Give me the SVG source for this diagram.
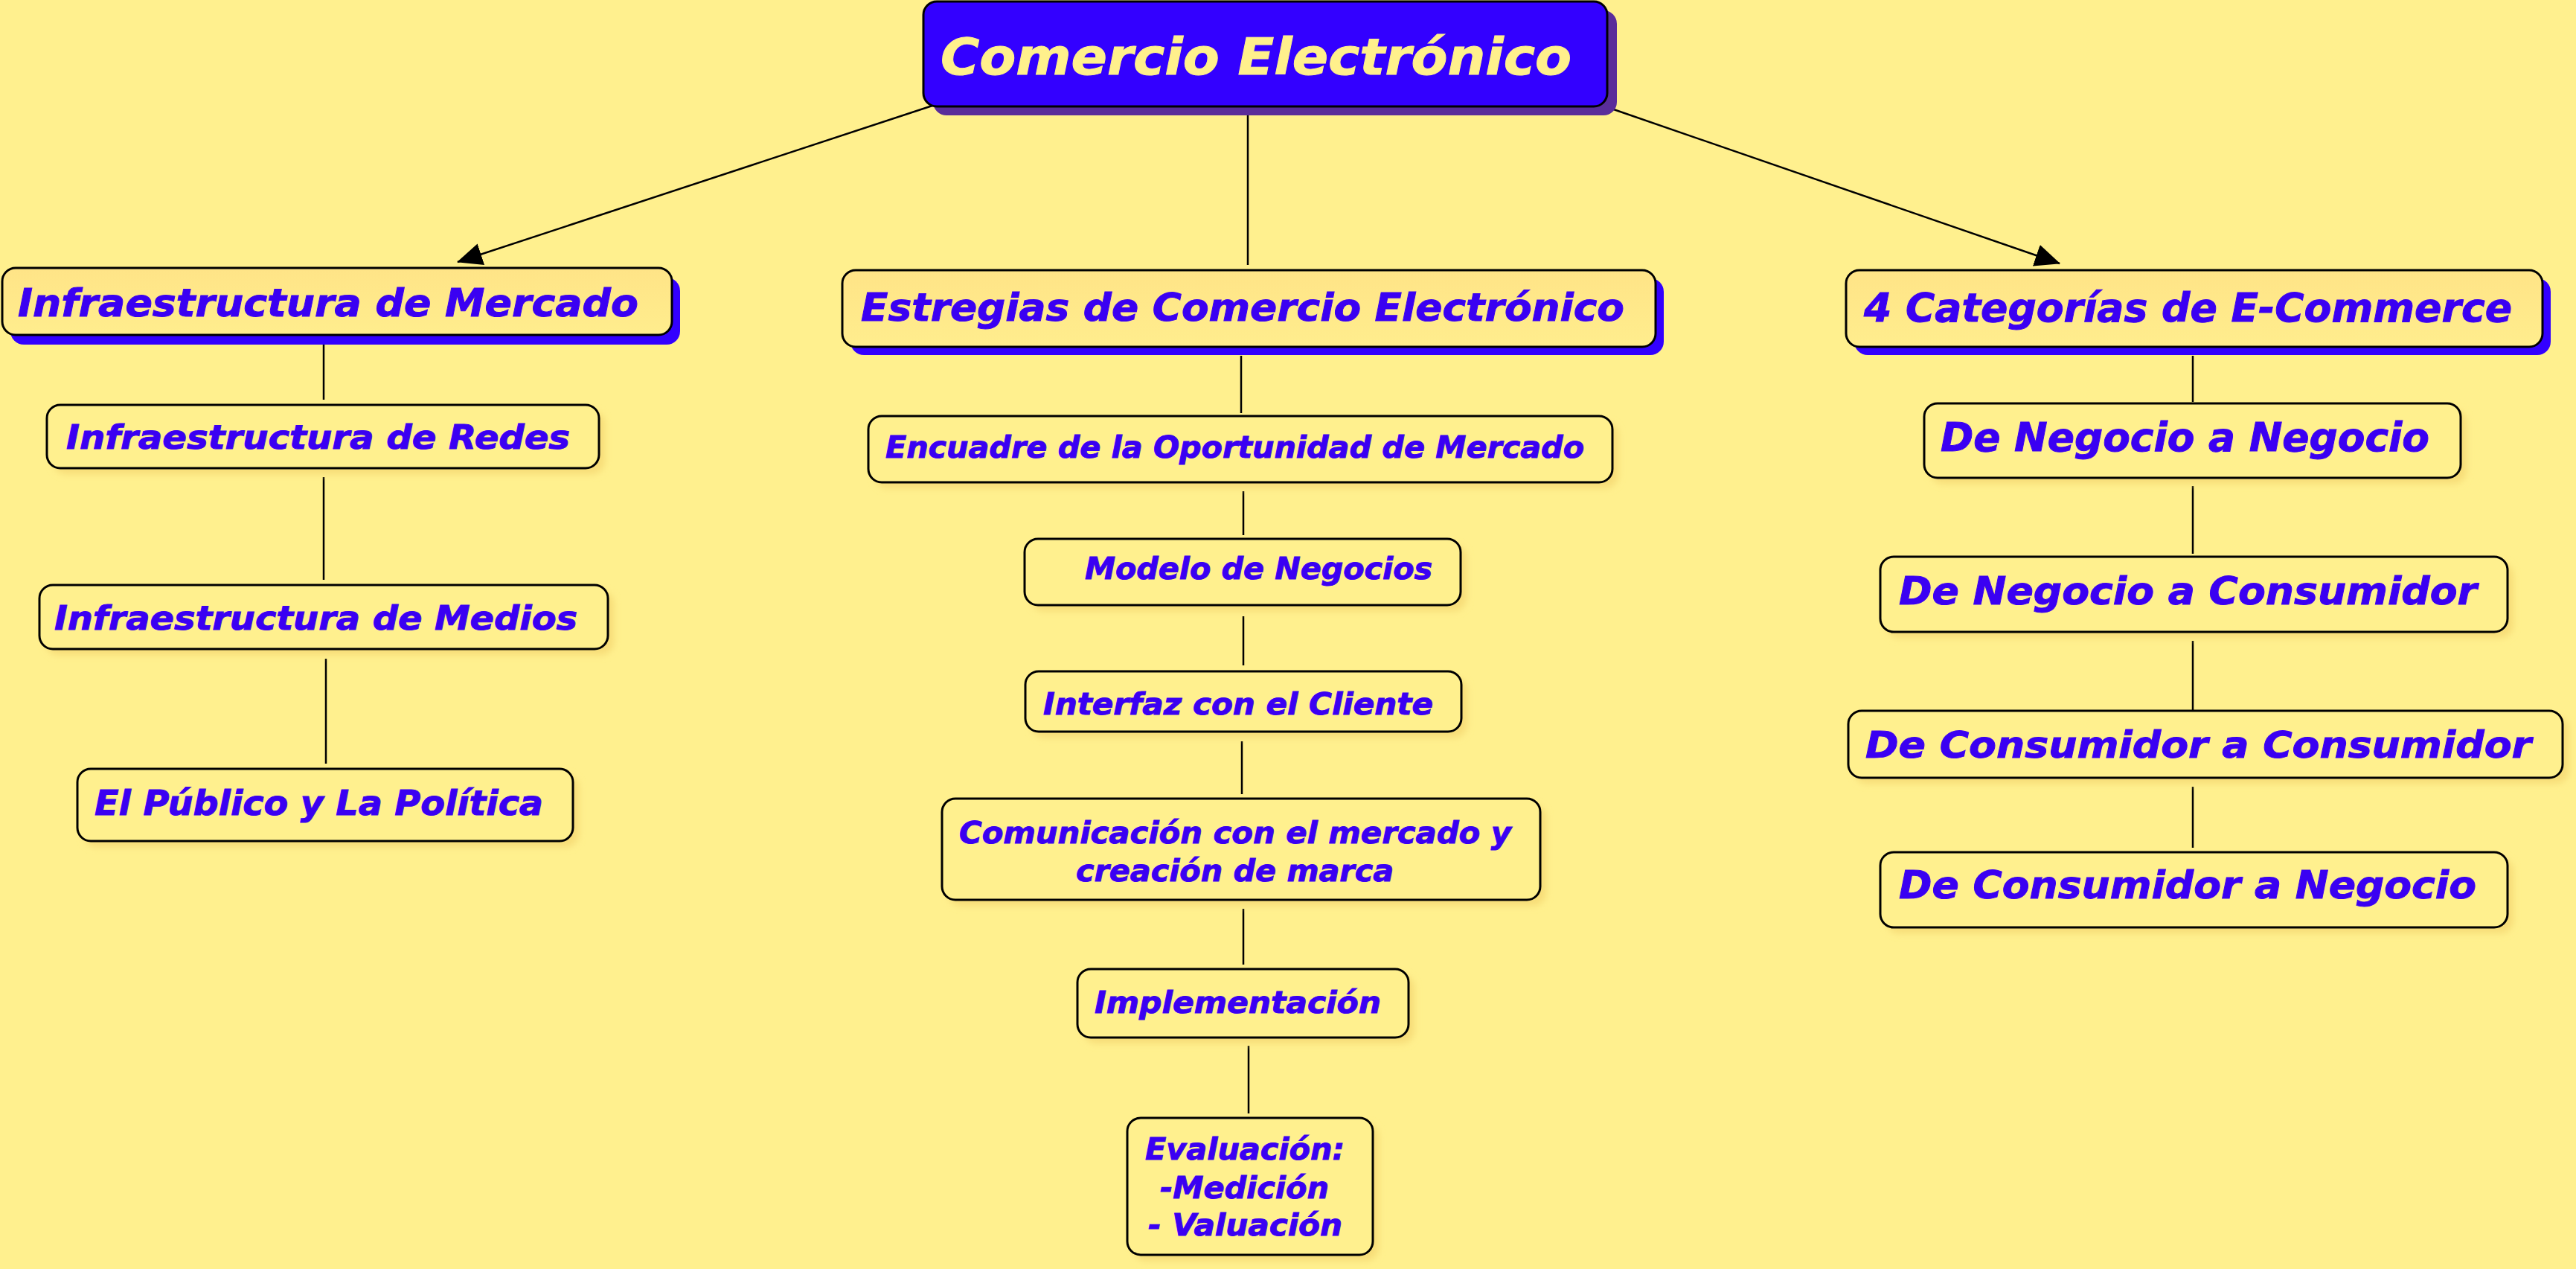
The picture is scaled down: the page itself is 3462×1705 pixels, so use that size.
<svg xmlns="http://www.w3.org/2000/svg" width="3462" height="1705" viewBox="0 0 3462 1705">
<style>
.bg{fill:#fff08e}
.box{fill:#fff08e;stroke:#000;stroke-width:3}
.box1{fill:url(#g1);stroke:#000;stroke-width:3}
.soft{fill:#f7dd78;filter:url(#blur)}
.sh1{fill:#3300ff}
.t{font-family:"DejaVu Sans","Liberation Sans",sans-serif;font-weight:bold;font-style:italic;fill:#3a00f2;stroke:#3a00f2;stroke-width:1}
.tm{font-family:"DejaVu Sans","Liberation Sans",sans-serif;font-weight:bold;font-style:italic;fill:#fff08c;stroke:#fff08c;stroke-width:1}
.c{stroke:#000;stroke-width:2.5;fill:none}
</style>
<defs>
<linearGradient id="g1" x1="0" y1="0" x2="0" y2="1">
<stop offset="0" stop-color="#ffe487"/>
<stop offset="1" stop-color="#ffed8d"/>
</linearGradient>
<filter id="blur" x="-10%" y="-30%" width="120%" height="160%"><feGaussianBlur stdDeviation="5"/></filter>
<marker id="arr" viewBox="0 0 34 30" refX="33" refY="15" markerWidth="34" markerHeight="30" orient="auto" markerUnits="userSpaceOnUse">
<path d="M0,0 L34,15 L0,30 z" fill="#000"/>
</marker>
</defs>
<rect class="bg" x="0" y="0" width="3462" height="1705"/>

<g id="connectors">
<line class="c" x1="1253" y1="142" x2="615" y2="352" marker-end="url(#arr)"/>
<line class="c" x1="2160" y1="144" x2="2768" y2="354" marker-end="url(#arr)"/>
<line class="c" x1="1677" y1="150" x2="1677" y2="356"/>
<line class="c" x1="435" y1="463" x2="435" y2="537"/>
<line class="c" x1="435" y1="641" x2="435" y2="779"/>
<line class="c" x1="438" y1="885" x2="438" y2="1026"/>
<line class="c" x1="1668" y1="478" x2="1668" y2="555"/>
<line class="c" x1="1671" y1="660" x2="1671" y2="719"/>
<line class="c" x1="1671" y1="828" x2="1671" y2="894"/>
<line class="c" x1="1669" y1="996" x2="1669" y2="1067"/>
<line class="c" x1="1671" y1="1221" x2="1671" y2="1296"/>
<line class="c" x1="1678" y1="1405" x2="1678" y2="1496"/>
<line class="c" x1="2947" y1="478" x2="2947" y2="540"/>
<line class="c" x1="2947" y1="653" x2="2947" y2="744"/>
<line class="c" x1="2947" y1="861" x2="2947" y2="954"/>
<line class="c" x1="2947" y1="1057" x2="2947" y2="1139"/>
</g>

<g id="main">
<rect x="1254" y="14" width="919" height="141" rx="18" fill="#5a2d9a"/>
<rect x="1241" y="2" width="919" height="141" rx="18" fill="#3300ff" stroke="#000" stroke-width="3"/>
<text class="tm" x="1264" y="100" font-size="68" textLength="848" lengthAdjust="spacingAndGlyphs">Comercio Electrónico</text>
</g>

<g id="infra-mercado">
<rect class="sh1" x="14" y="373" width="900" height="90" rx="18"/>
<rect class="box1" x="3" y="360" width="900" height="90" rx="18"/>
<text class="t" x="24" y="425" font-size="52" textLength="834" lengthAdjust="spacingAndGlyphs">Infraestructura de Mercado</text>
</g>
<g id="infra-redes">
<rect class="soft" x="71" y="552" width="742" height="85" rx="18"/>
<rect class="box" x="63" y="544" width="742" height="85" rx="18"/>
<text class="t" x="89" y="603" font-size="44" textLength="677" lengthAdjust="spacingAndGlyphs">Infraestructura de Redes</text>
</g>
<g id="infra-medios">
<rect class="soft" x="61" y="794" width="764" height="86" rx="18"/>
<rect class="box" x="53" y="786" width="764" height="86" rx="18"/>
<text class="t" x="73" y="846" font-size="45" textLength="703" lengthAdjust="spacingAndGlyphs">Infraestructura de Medios</text>
</g>
<g id="publico">
<rect class="soft" x="112" y="1041" width="666" height="97" rx="18"/>
<rect class="box" x="104" y="1033" width="666" height="97" rx="18"/>
<text class="t" x="127" y="1095" font-size="46" textLength="603" lengthAdjust="spacingAndGlyphs">El Público y La Política</text>
</g>

<g id="estrategias">
<rect class="sh1" x="1143" y="374" width="1093" height="103" rx="18"/>
<rect class="box1" x="1132" y="363" width="1093" height="103" rx="18"/>
<text class="t" x="1157" y="431" font-size="52" textLength="1026" lengthAdjust="spacingAndGlyphs">Estregias de Comercio Electrónico</text>
</g>
<g id="encuadre">
<rect class="soft" x="1175" y="567" width="1000" height="89" rx="18"/>
<rect class="box" x="1167" y="559" width="1000" height="89" rx="18"/>
<text class="t" x="1190" y="615" font-size="40" textLength="939" lengthAdjust="spacingAndGlyphs">Encuadre de la Oportunidad de Mercado</text>
</g>
<g id="modelo">
<rect class="soft" x="1385" y="732" width="586" height="89" rx="18"/>
<rect class="box" x="1377" y="724" width="586" height="89" rx="18"/>
<text class="t" x="1458" y="778" font-size="40" textLength="467" lengthAdjust="spacingAndGlyphs">Modelo de Negocios</text>
</g>
<g id="interfaz">
<rect class="soft" x="1386" y="910" width="586" height="81" rx="18"/>
<rect class="box" x="1378" y="902" width="586" height="81" rx="18"/>
<text class="t" x="1402" y="960" font-size="41" textLength="524" lengthAdjust="spacingAndGlyphs">Interfaz con el Cliente</text>
</g>
<g id="comunicacion">
<rect class="soft" x="1274" y="1081" width="804" height="136" rx="18"/>
<rect class="box" x="1266" y="1073" width="804" height="136" rx="18"/>
<text class="t" x="1289" y="1133" font-size="41" textLength="742" lengthAdjust="spacingAndGlyphs">Comunicación con el mercado y</text>
<text class="t" x="1446" y="1184" font-size="41" textLength="427" lengthAdjust="spacingAndGlyphs">creación de marca</text>
</g>
<g id="implementacion">
<rect class="soft" x="1456" y="1310" width="445" height="92" rx="18"/>
<rect class="box" x="1448" y="1302" width="445" height="92" rx="18"/>
<text class="t" x="1471" y="1361" font-size="41" textLength="385" lengthAdjust="spacingAndGlyphs">Implementación</text>
</g>
<g id="evaluacion">
<rect class="soft" x="1523" y="1510" width="330" height="184" rx="18"/>
<rect class="box" x="1515" y="1502" width="330" height="184" rx="18"/>
<text class="t" x="1539" y="1558" font-size="41" textLength="268" lengthAdjust="spacingAndGlyphs">Evaluación:</text>
<text class="t" x="1559" y="1610" font-size="41" textLength="227" lengthAdjust="spacingAndGlyphs">-Medición</text>
<text class="t" x="1543" y="1660" font-size="41" textLength="261" lengthAdjust="spacingAndGlyphs">- Valuación</text>
</g>

<g id="categorias">
<rect class="sh1" x="2492" y="374" width="936" height="103" rx="18"/>
<rect class="box1" x="2481" y="363" width="936" height="103" rx="18"/>
<text class="t" x="2505" y="432" font-size="53" textLength="871" lengthAdjust="spacingAndGlyphs">4 Categorías de E-Commerce</text>
</g>
<g id="b2b">
<rect class="soft" x="2594" y="550" width="721" height="100" rx="18"/>
<rect class="box" x="2586" y="542" width="721" height="100" rx="18"/>
<text class="t" x="2608" y="606" font-size="53" textLength="657" lengthAdjust="spacingAndGlyphs">De Negocio a Negocio</text>
</g>
<g id="b2c">
<rect class="soft" x="2535" y="756" width="843" height="101" rx="18"/>
<rect class="box" x="2527" y="748" width="843" height="101" rx="18"/>
<text class="t" x="2552" y="812" font-size="52" textLength="777" lengthAdjust="spacingAndGlyphs">De Negocio a Consumidor</text>
</g>
<g id="c2c">
<rect class="soft" x="2492" y="963" width="960" height="90" rx="18"/>
<rect class="box" x="2484" y="955" width="960" height="90" rx="18"/>
<text class="t" x="2507" y="1018" font-size="50" textLength="895" lengthAdjust="spacingAndGlyphs">De Consumidor a Consumidor</text>
</g>
<g id="c2b">
<rect class="soft" x="2535" y="1153" width="843" height="101" rx="18"/>
<rect class="box" x="2527" y="1145" width="843" height="101" rx="18"/>
<text class="t" x="2552" y="1207" font-size="51" textLength="776" lengthAdjust="spacingAndGlyphs">De Consumidor a Negocio</text>
</g>
</svg>
